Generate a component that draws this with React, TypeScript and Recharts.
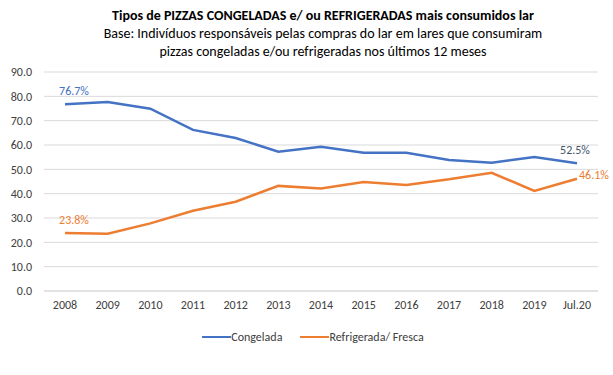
import React from "react";
import { LineChart, Line, XAxis, YAxis, CartesianGrid, LabelList } from "recharts";

const categories = ["2008", "2009", "2010", "2011", "2012", "2013", "2014", "2015", "2016", "2017", "2018", "2019", "Jul.20"];
const congelada = [76.7, 77.7, 74.9, 66.2, 62.9, 57.2, 59.3, 56.8, 56.8, 53.8, 52.7, 55.1, 52.5];
const refrigerada = [23.8, 23.5, 27.8, 33.0, 36.7, 43.2, 42.1, 44.8, 43.6, 45.9, 48.6, 41.1, 46.1];
const yTicks = [0, 10, 20, 30, 40, 50, 60, 70, 80, 90];

const title = "Tipos de PIZZAS CONGELADAS e/ ou REFRIGERADAS mais consumidos lar";
const subtitle1 = "Base: Indivíduos  responsáveis  pelas compras do lar em lares que consumiram";
const subtitle2 = "pizzas congeladas e/ou refrigeradas nos últimos 12 meses";

const data = categories.map((c, i) => ({ cat: c, congelada: congelada[i], refrigerada: refrigerada[i] }));

const FONT = "Carlito, 'Liberation Sans Narrow', 'DejaVu Sans Condensed', sans-serif";
const BLUE = "#4472C4";
const ORANGE = "#ED7D31";

const makeLabel = (color: string, lastColor: string, lastRight: boolean) => (props: any) => {
  const { x, y, value, index } = props;
  const last = categories.length - 1;
  if (index !== 0 && index !== last) return null;
  const txt = `${Number(value).toFixed(1)}%`;
  if (index === last && lastRight) {
    return (
      <text x={x + 2} y={y} dy={0} fill={lastColor} fontSize={12} fontFamily={FONT} textAnchor="start">
        {txt}
      </text>
    );
  }
  return (
    <text x={index === last ? x - 2 : x + 9} y={y - 9} fill={index === last ? lastColor : color} fontSize={12} fontFamily={FONT} textAnchor="middle">
      {txt}
    </text>
  );
};

const legendItems = [
  { name: "Congelada", color: BLUE },
  { name: "Refrigerada/ Fresca", color: ORANGE },
];

export default function App() {
  return (
    <div style={{ position: "absolute", left: 0, top: 0, width: 613, height: 375, background: "#fff" }}>
      <div style={{ position: "absolute", left: 0, top: 7, width: 646, textAlign: "center", fontFamily: FONT, color: "#000", lineHeight: "18px" }}>
        <div style={{ fontWeight: "bold", fontSize: 14 }}>{title}</div>
        <div style={{ fontSize: 14 }}>{subtitle1}</div>
        <div style={{ fontSize: 14 }}>{subtitle2}</div>
      </div>
      <LineChart width={613} height={375} data={data} margin={{ top: 72, right: 15, bottom: 54, left: 0 }}>
        <CartesianGrid vertical={false} stroke="#d9d9d9" strokeWidth={1} />
        <XAxis
          dataKey="cat"
          axisLine={{ stroke: "#d9d9d9" }}
          tickLine={false}
          padding={{ left: 21, right: 21 }}
          tick={{ fill: "#404040", fontSize: 12, fontFamily: FONT }}
          tickMargin={3}
          interval={0}
        />
        <YAxis
          width={44}
          domain={[0, 90]}
          ticks={yTicks}
          axisLine={false}
          tickLine={false}
          tickFormatter={(v: number) => v.toFixed(1)}
          tick={{ fill: "#404040", fontSize: 12, fontFamily: FONT }}
          tickMargin={6}
          interval={0}
        />
        <Line type="linear" dataKey="congelada" name="Congelada" stroke={BLUE} strokeWidth={2.5} dot={false} isAnimationActive={false}>
          <LabelList dataKey="congelada" content={makeLabel(BLUE, "#44546A", false)} />
        </Line>
        <Line type="linear" dataKey="refrigerada" name="Refrigerada/ Fresca" stroke={ORANGE} strokeWidth={2.5} dot={false} isAnimationActive={false}>
          <LabelList dataKey="refrigerada" content={makeLabel(ORANGE, ORANGE, true)} />
        </Line>
      </LineChart>
      <div style={{ position: "absolute", left: 0, top: 330, width: 626, display: "flex", justifyContent: "center", fontFamily: FONT, fontSize: 12, color: "#404040" }}>
        {legendItems.map((it) => (
          <div key={it.name} style={{ display: "flex", alignItems: "center", margin: "0 9px" }}>
            <div style={{ width: 29, height: 2.5, background: it.color }} />
            <span>{it.name}</span>
          </div>
        ))}
      </div>
    </div>
  );
}
